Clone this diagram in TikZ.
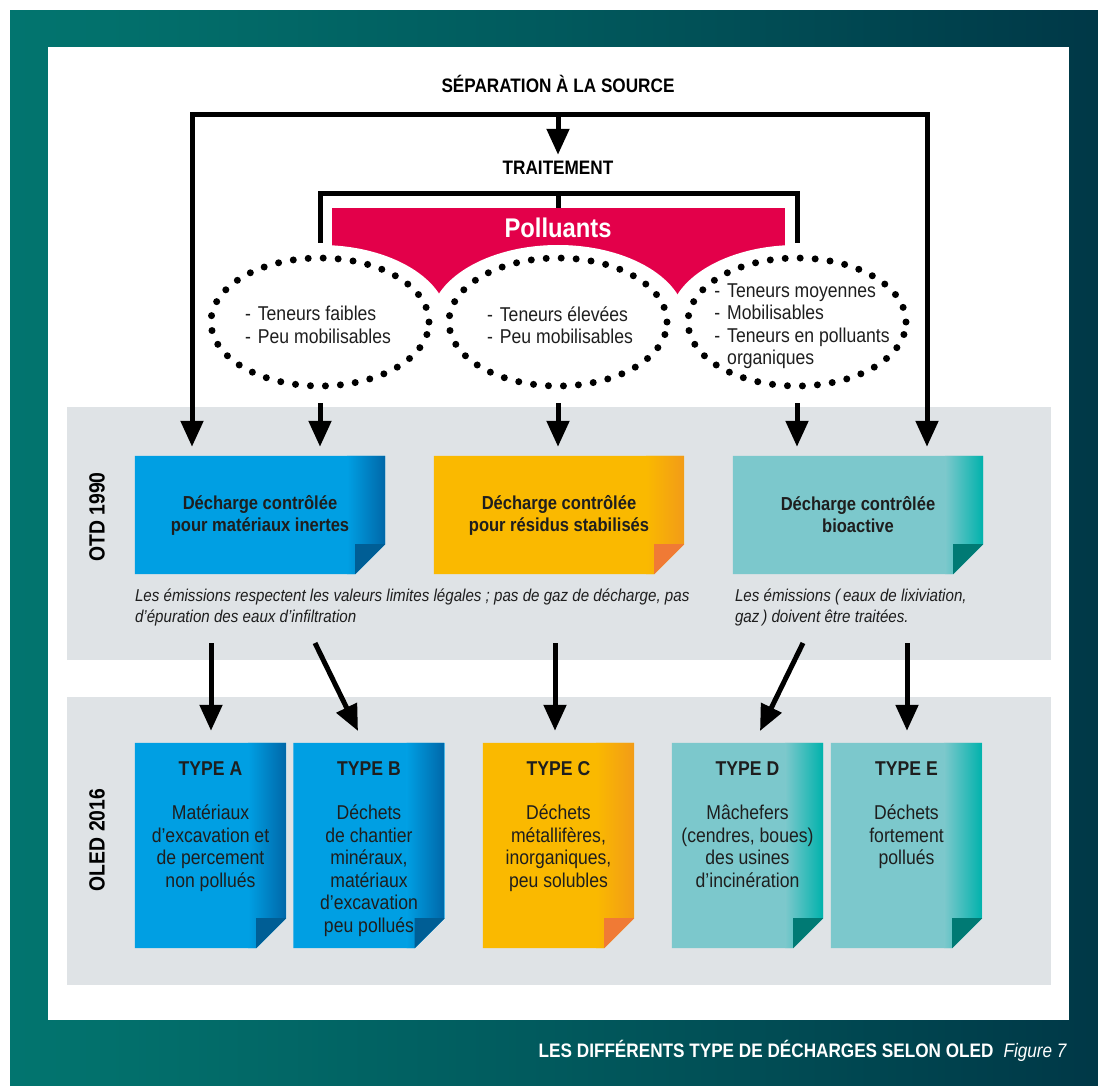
\documentclass[tikz,border=0pt]{standalone}
\usepackage{fontspec}
\setmainfont{Liberation Sans}[FakeStretch=0.88]
\usetikzlibrary{arrows.meta,positioning,shapes.geometric}
\definecolor{frameA}{HTML}{02756F}
\definecolor{frameB}{HTML}{003847}
\definecolor{bandgray}{HTML}{DFE3E6}
\definecolor{polred}{HTML}{E3004A}
\definecolor{bluemain}{HTML}{009FE3}
\definecolor{blueedge}{HTML}{0067A8}
\definecolor{bluefold}{HTML}{005E95}
\definecolor{orgmain}{HTML}{FAB900}
\definecolor{orgedge}{HTML}{F29B18}
\definecolor{orgfold}{HTML}{F07A35}
\definecolor{tealmain}{HTML}{7CC8CC}
\definecolor{tealedge}{HTML}{00B2AC}
\definecolor{tealfold}{HTML}{007A74}
\definecolor{ink}{HTML}{1E1E1E}
\pgfdeclarelayer{paper}
\pgfdeclarelayer{notes}
\pgfsetlayers{paper,notes,main}
% sticky note behind a node: node, main, edge, fold
\newcommand{\notebg}[4]{%
\fill[#2] (#1.north west) -- (#1.north east) -- ([yshift=30pt]#1.south east) -- ([xshift=-30pt]#1.south east) -- (#1.south west) -- cycle;
\begin{scope}
\clip (#1.north west) -- (#1.north east) -- ([yshift=30pt]#1.south east) -- ([xshift=-30pt]#1.south east) -- (#1.south west) -- cycle;
\shade[left color=#2,right color=#3] ([xshift=-38pt]#1.north east) rectangle (#1.south east);
\end{scope}
\fill[#4] ([yshift=30pt]#1.south east) -- ([xshift=-30pt,yshift=30pt]#1.south east) -- ([xshift=-30pt]#1.south east) -- cycle;
}
\tikzset{
wire/.style={line width=5pt},
arrow/.style={line width=5pt,-{Triangle[width=22pt,length=26pt]}},
bigbox/.style={minimum width=250pt,minimum height=118pt,inner sep=0pt,align=center,font=\fontsize{18.8}{22}\selectfont\bfseries,text=ink},
typebox/.style={minimum width=151pt,minimum height=205pt,inner sep=0pt},
typetext/.style={align=center,inner sep=0pt,font=\fontsize{20}{22.5}\selectfont,text=ink},
dots/.style={ellipse,minimum width=218pt,minimum height=128pt,inner sep=0pt,outer sep=0pt,draw,line width=7pt,dash pattern=on 0pt off 15pt,line cap=round},
list/.style={align=left,inner sep=0pt,font=\fontsize{20}{22.5}\selectfont,text=ink},
remark/.style={align=left,inner sep=0pt,font=\fontsize{17.2}{21}\selectfont\itshape,text=ink},
head/.style={font=\fontsize{19.5}{22}\selectfont\bfseries},
era/.style={font=\fontsize{22}{24}\selectfont\bfseries,rotate=90}
}
\begin{document}
\begin{tikzpicture}[x=1pt,y=-1pt]
\useasboundingbox (0,0) rectangle (1098,1086);
\begin{pgfonlayer}{paper}
%frame and bands
\shade[left color=frameA,right color=frameB,middle color=frameA!55!frameB] (10,11) rectangle (1098,1086);
\fill[white] (48,47) rectangle (1069,1020);
\fill[bandgray] (67,407) rectangle (1051,660);
\fill[bandgray] (67,697) rectangle (1051,985);
\end{pgfonlayer}
%polluants
\fill[polred] (332,208) rectangle (785,300);
\begin{scope}
\clip (332,208) rectangle (785,300);
\foreach \cx in {320,558,797}
  \fill[white] (\cx,322) ellipse [x radius=128,y radius=77];
\end{scope}
\node[text=white,font=\fontsize{27}{30}\selectfont\bfseries] (pol) at (558,228) {Polluants};
%ellipses
\node[dots] (low) at (320,322) {};
\node[dots] (high) at (558,322) {};
\node[dots] (mid) at (797,322) {};
\node[list] (lowT) at (318,325) {-\hspace{7pt}Teneurs faibles\\-\hspace{7pt}Peu mobilisables};
\node[list] (highT) at (560,325) {-\hspace{7pt}Teneurs élevées\\-\hspace{7pt}Peu mobilisables};
\node[list] (midT) at (802,326) {-\hspace{7pt}Teneurs moyennes\\-\hspace{7pt}Mobilisables\\-\hspace{7pt}Teneurs en polluants\\\phantom{-}\hspace{7pt}organiques};
%headings
\node[head] (sep) at (558,84) {SÉPARATION À LA SOURCE};
\node[head] (trait) at (558,168) {TRAITEMENT};
%OTD 1990
\node[era] (otd) at (97,517) {OTD 1990};
\node[bigbox] (inert) at (260,515) {Décharge contrôlée\\pour matériaux inertes};
\node[bigbox] (stab) at (559,515) {Décharge contrôlée\\pour résidus stabilisés};
\node[bigbox] (bio) at (858,515) {Décharge contrôlée\\bioactive};
\node[remark,below right=14pt and 0pt of inert.south west] (remL) {Les émissions respectent les valeurs limites légales ; pas de gaz de décharge, pas\\d’épuration des eaux d’infiltration};
\node[remark,below right=14pt and 2pt of bio.south west] (remR) {Les émissions (\,eaux de lixiviation,\\gaz\,) doivent être traitées.};
%OLED 2016
\node[era] (oled) at (97,840) {OLED 2016};
\node[typebox] (typeA) at (210.5,845.5) {};
\node[typebox] (typeB) at (369,845.5) {};
\node[typebox] (typeC) at (558.5,845.5) {};
\node[typebox] (typeD) at (747.5,845.5) {};
\node[typebox] (typeE) at (906.5,845.5) {};
\node[typetext,below=19pt of typeA.north] (txtA) {\textbf{TYPE A}\\[21.5pt]Matériaux\\d’excavation et\\de percement\\non pollués};
\node[typetext,below=19pt of typeB.north] (txtB) {\textbf{TYPE B}\\[21.5pt]Déchets\\de chantier\\minéraux,\\matériaux\\d’excavation\\peu pollués};
\node[typetext,below=19pt of typeC.north] (txtC) {\textbf{TYPE C}\\[21.5pt]Déchets\\métallifères,\\inorganiques,\\peu solubles};
\node[typetext,below=19pt of typeD.north] (txtD) {\textbf{TYPE D}\\[21.5pt]Mâchefers\\(cendres, boues)\\des usines\\d’incinération};
\node[typetext,below=19pt of typeE.north] (txtE) {\textbf{TYPE E}\\[21.5pt]Déchets\\fortement\\pollués};
%caption
\node[font=\fontsize{19.5}{22}\selectfont\bfseries,text=white,anchor=base east] (cap) at (1070,1057) {LES DIFFÉRENTS TYPE DE DÉCHARGES SELON OLED\hspace{10pt}\mdseries\itshape Figure 7};
%connectors
\coordinate (top) at (558,115);
\coordinate (topL) at (192,115);
\coordinate (topR) at (927,115);
\draw[wire,{Triangle[width=22pt,length=26pt]}-{Triangle[width=22pt,length=26pt]},shorten <=9pt,shorten >=9pt] (topL |- inert.north) -- (topL) -- (topR) -- (topR |- bio.north);
\draw[arrow,shorten >=3pt] (top) -- (trait.north);
\coordinate (brL) at (320,243);
\coordinate (brR) at (797,243);
\coordinate (brM) at (558,194);
\coordinate (polTop) at (558,208);
\draw[wire] (brL) |- (brM) -| (brR);
\draw[wire] (brM) -- (polTop);
\draw[arrow,shorten >=9pt] ([yshift=-17pt]low.south) -- (low.south |- inert.north);
\draw[arrow,shorten >=9pt] ([yshift=-17pt]high.south) -- (high.south |- stab.north);
\draw[arrow,shorten >=9pt] ([yshift=-17pt]mid.south) -- (mid.south |- bio.north);
\coordinate (a1) at (211,643);
\coordinate (a2) at (315,643);
\coordinate (a3) at (555,643);
\coordinate (a4) at (803,643);
\coordinate (a5) at (907,643);
\coordinate (e2) at (358,731);
\coordinate (e4) at (760,731);
\draw[arrow,shorten >=12pt] (a1) -- (a1 |- typeA.north);
\draw[arrow] (a2) -- (e2);
\draw[arrow,shorten >=12pt] (a3) -- (a3 |- typeC.north);
\draw[arrow] (a4) -- (e4);
\draw[arrow,shorten >=12pt] (a5) -- (a5 |- typeE.north);
%sticky notes
\begin{pgfonlayer}{notes}
\notebg{inert}{bluemain}{blueedge}{bluefold}
\notebg{stab}{orgmain}{orgedge}{orgfold}
\notebg{bio}{tealmain}{tealedge}{tealfold}
\notebg{typeA}{bluemain}{blueedge}{bluefold}
\notebg{typeB}{bluemain}{blueedge}{bluefold}
\notebg{typeC}{orgmain}{orgedge}{orgfold}
\notebg{typeD}{tealmain}{tealedge}{tealfold}
\notebg{typeE}{tealmain}{tealedge}{tealfold}
\end{pgfonlayer}
\end{tikzpicture}
\end{document}
